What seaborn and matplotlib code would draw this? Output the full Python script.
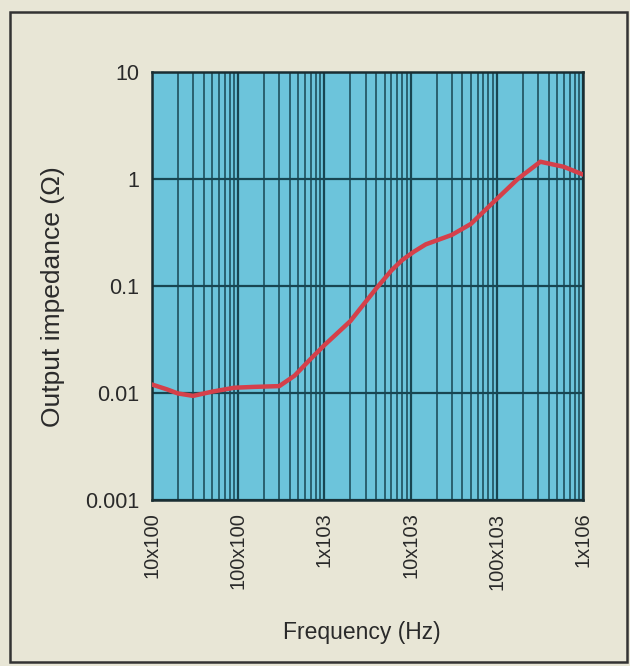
import matplotlib
matplotlib.use("Agg")
import matplotlib.pyplot as plt
import matplotlib.ticker as mticker
from matplotlib.patches import Rectangle
import seaborn as sns
import pandas as pd

freq_hz = [10, 15, 20, 30, 50, 90, 150, 300, 450, 700, 1000, 2000, 4000,
           6000, 8000, 11000, 15000, 30000, 50000, 90000, 175000, 320000, 600000, 1000000]
impedance = [0.012, 0.0108, 0.0099, 0.0094, 0.0103, 0.0112, 0.0114, 0.0116,
             0.0145, 0.021, 0.028, 0.047, 0.095, 0.14, 0.175, 0.21, 0.245, 0.30, 0.38,
             0.60, 1.0, 1.45, 1.3, 1.1]
x_ticks = [10, 100, 1000, 10000, 100000, 1000000]
x_labels = ["10x100", "100x100", "1x103", "10x103", "100x103", "1x106"]
y_ticks = [0.001, 0.01, 0.1, 1, 10]
y_labels = ["0.001", "0.01", "0.1", "1", "10"]

sns.set_theme(style="white")
plt.rcParams["font.family"] = ["Liberation Sans", "DejaVu Sans"]

bg = "#e8e6d6"
txt = "#2a2a2a"
fig = plt.figure(figsize=(6.3, 6.66), dpi=100, facecolor=bg)
ax = fig.add_axes([152/630, 1-500/666, (583-152)/630, (500-72)/666])
ax.set_facecolor("#6cc4db")

df = pd.DataFrame({"f": freq_hz, "z": impedance})
sns.lineplot(data=df, x="f", y="z", ax=ax, color="#d5404a", linewidth=3.2, zorder=5)

ax.set_xscale("log")
ax.set_yscale("log")
ax.set_xlim(10, 1e6)
ax.set_ylim(0.001, 10)

ax.xaxis.set_major_locator(mticker.FixedLocator(x_ticks))
ax.xaxis.set_minor_locator(mticker.LogLocator(base=10, subs=range(2, 10), numticks=20))
ax.xaxis.set_minor_formatter(mticker.NullFormatter())
ax.set_xticklabels(x_labels, rotation=90, fontsize=14.5, color=txt)
ax.yaxis.set_major_locator(mticker.FixedLocator(y_ticks))
ax.yaxis.set_minor_locator(mticker.NullLocator())
ax.set_yticklabels(y_labels, fontsize=15.5, color=txt)

grid_c = "#184652"
ax.grid(True, which="major", axis="both", color=grid_c, linewidth=1.6)
ax.grid(True, which="minor", axis="x", color=grid_c, linewidth=1.1)
ax.set_axisbelow(True)
ax.tick_params(axis="both", which="both", length=0, pad=9)

for s in ax.spines.values():
    s.set_color("#1a2e33")
    s.set_linewidth(1.8)

ax.set_xlabel("Frequency (Hz)", fontsize=16.5, color=txt)
ax.set_ylabel("Output impedance (Ω)", fontsize=19, color=txt)
ax.xaxis.set_label_coords((362-152)/431, (500-633)/428)
ax.yaxis.set_label_coords((53-152)/431, (500-297)/428)
ax.xaxis.label.set_va("center")
ax.yaxis.label.set_va("center")

fig.patches.append(Rectangle((10/630, 1-662/666), (627-10)/630, (662-12)/666,
                             transform=fig.transFigure, fill=False,
                             edgecolor="#333333", linewidth=1.8))

fig.savefig("out.png", dpi=100, facecolor=bg)
